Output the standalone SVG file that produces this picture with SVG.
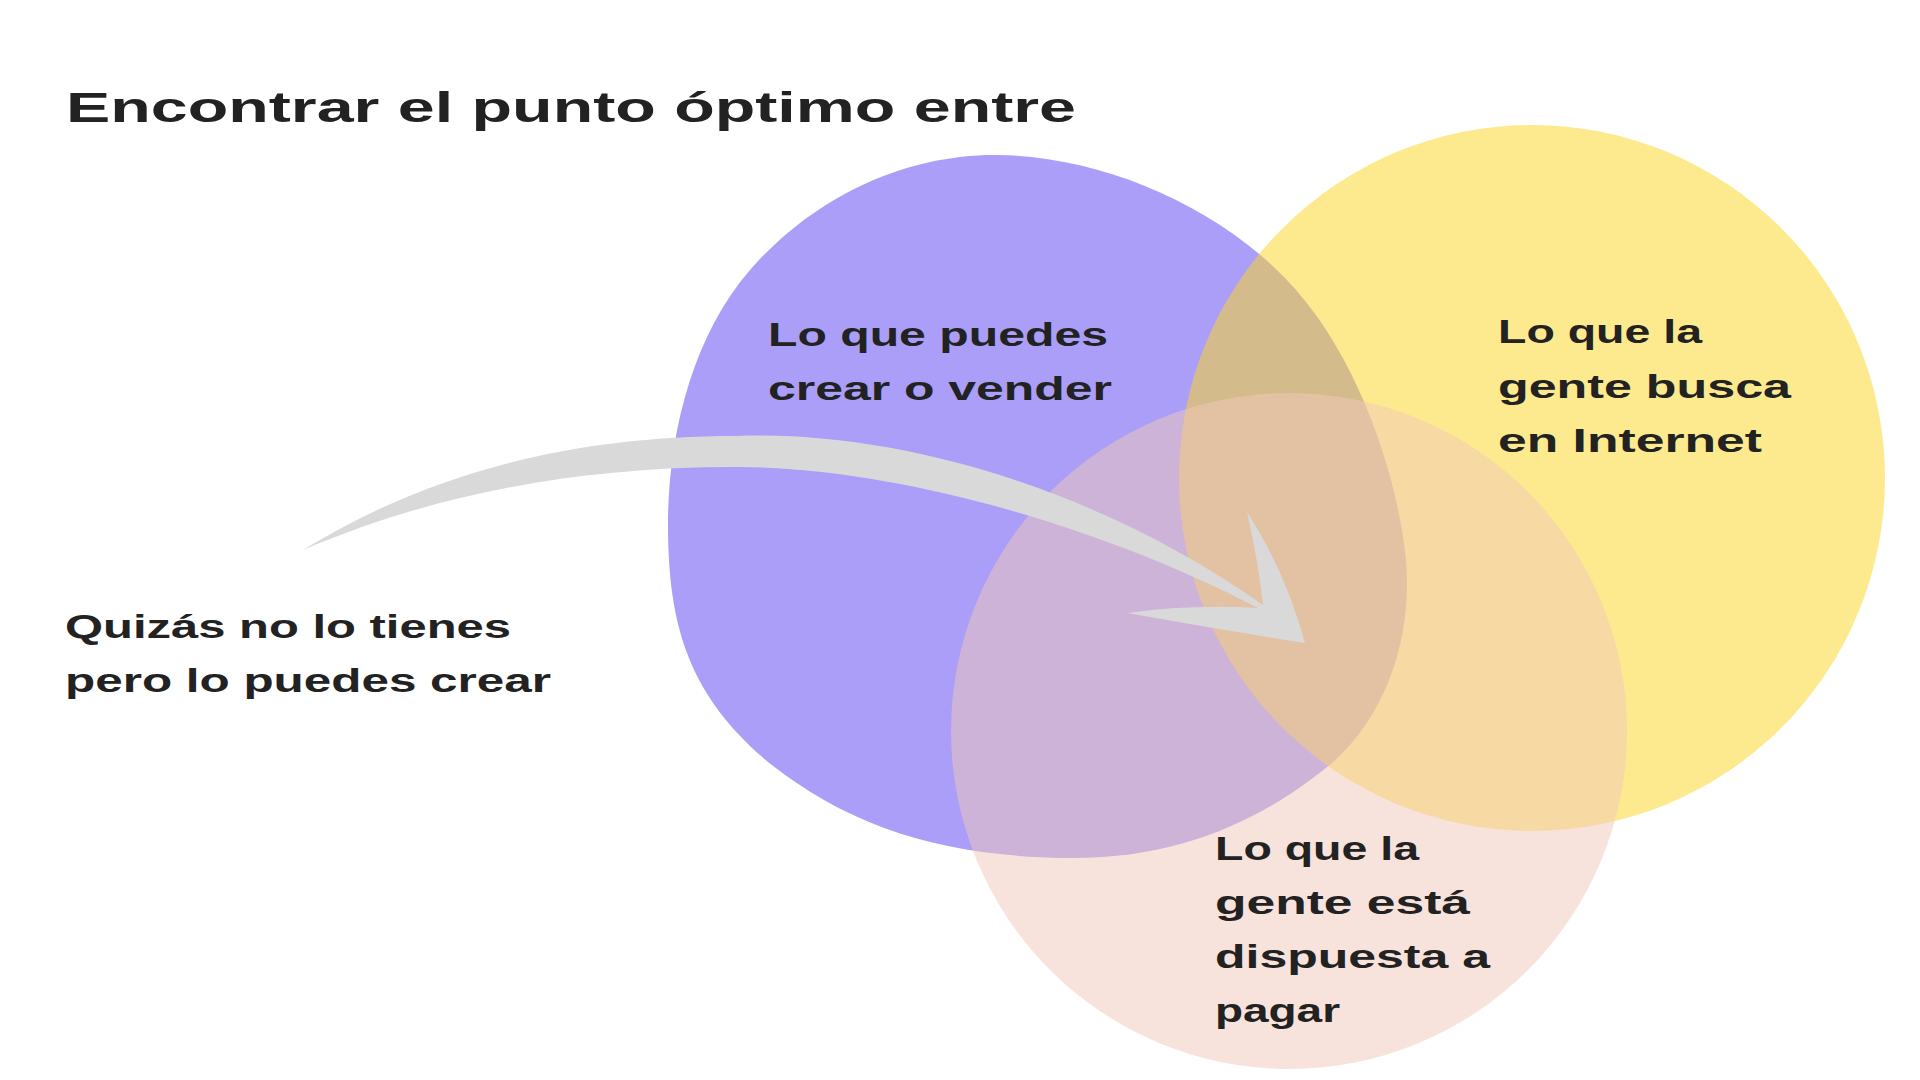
<svg xmlns="http://www.w3.org/2000/svg" width="1920" height="1080" viewBox="0 0 1920 1080">
  <style>
    .t { font-family: "Liberation Sans", Arial, sans-serif; font-weight: bold; fill: #222222; }
    .title { font-size: 43px; }
    .lbl { font-size: 34px; }
    .purple { fill: #AA9EF8; }
    .yellow { fill: #FBD628; fill-opacity: 0.52; }
    .pink { fill: #F2C8BA; fill-opacity: 0.5; }
    .arrow { fill: #D9D9D9; }
  </style>
  <rect x="0" y="0" width="1920" height="1080" fill="#FFFFFF"/>

  <g id="title">
    <text class="t title" x="66" y="122" textLength="1010" lengthAdjust="spacingAndGlyphs">Encontrar el punto óptimo entre</text>
  </g>

  <g id="node-crear">
    <path class="purple" d="M998,155 C1096,156 1210,201 1285,278 C1360,355 1398,480 1406,560 C1412,628 1392,710 1332,763 C1269,815 1185,860 1065,858 C945,856 852,829 768,762 C684,692 669,618 668,530 C667,442 690,339 750,270 C810,201 900,154 998,155 Z"/>
    <text class="t lbl" x="768" y="346" textLength="340" lengthAdjust="spacingAndGlyphs">Lo que puedes</text>
    <text class="t lbl" x="768" y="400" textLength="344" lengthAdjust="spacingAndGlyphs">crear o vender</text>
  </g>

  <g id="node-busca">
    <circle class="yellow" cx="1532" cy="478" r="353"/>
    <text class="t lbl" x="1498" y="343" textLength="204" lengthAdjust="spacingAndGlyphs">Lo que la</text>
    <text class="t lbl" x="1498" y="398" textLength="293" lengthAdjust="spacingAndGlyphs">gente busca</text>
    <text class="t lbl" x="1498" y="452" textLength="264" lengthAdjust="spacingAndGlyphs">en Internet</text>
  </g>

  <g id="node-pagar">
    <circle class="pink" cx="1289" cy="731" r="338"/>
    <text class="t lbl" x="1215" y="860" textLength="204" lengthAdjust="spacingAndGlyphs">Lo que la</text>
    <text class="t lbl" x="1215" y="914" textLength="255" lengthAdjust="spacingAndGlyphs">gente está</text>
    <text class="t lbl" x="1215" y="968" textLength="275" lengthAdjust="spacingAndGlyphs">dispuesta a</text>
    <text class="t lbl" x="1215" y="1022" textLength="125" lengthAdjust="spacingAndGlyphs">pagar</text>
  </g>

  <g id="node-quizas">
    <text class="t lbl" x="65" y="638" textLength="446" lengthAdjust="spacingAndGlyphs">Quizás no lo tienes</text>
    <text class="t lbl" x="65" y="692" textLength="486" lengthAdjust="spacingAndGlyphs">pero lo puedes crear</text>
  </g>

  <g id="connectors">
    <path class="arrow" d="M303,550 C420,478 560,436 736,436 C900,430 1100,490 1263,605 Q1258,560 1247,512 Q1285,570 1305,643 Q1210,628 1128,613 Q1190,604 1258,608 C1110,530 900,467 736,467 C560,467 420,500 303,550 Z"/>
  </g>
</svg>
